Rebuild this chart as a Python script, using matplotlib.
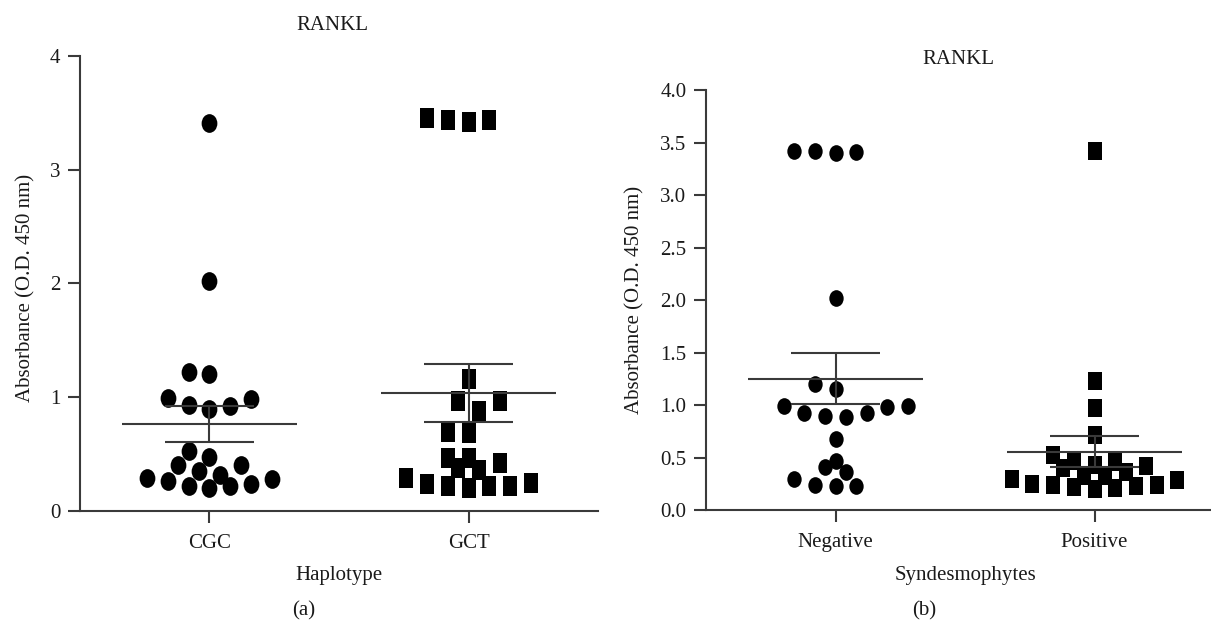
import numpy as np
import matplotlib.pyplot as plt
from matplotlib.path import Path
from matplotlib.transforms import Affine2D

plt.rcParams['font.family'] = ['Liberation Serif', 'DejaVu Serif']
plt.rcParams['font.size'] = 15

# absorbance values
cgc = [3.41, 2.02, 1.22, 1.20, 0.99, 0.98, 0.93, 0.89, 0.92, 0.52, 0.47,
       0.40, 0.40, 0.35, 0.31, 0.29, 0.28, 0.26, 0.22, 0.20, 0.22, 0.23]
gct = [3.44, 3.42, 3.44, 3.45, 1.16, 0.96, 0.96, 0.88, 0.69, 0.68, 0.46,
       0.46, 0.42, 0.37, 0.357, 0.29, 0.23, 0.22, 0.20, 0.22, 0.22, 0.24]
negative = [3.42, 3.41, 3.40, 3.42, 2.02, 1.20, 1.15, 0.99, 0.98, 0.99, 0.92,
            0.89, 0.90, 0.92, 0.68, 0.47, 0.41, 0.36, 0.30, 0.24, 0.23, 0.23]
positive = [3.42, 1.23, 0.97, 0.71, 0.52, 0.47, 0.46, 0.43, 0.42, 0.40, 0.36,
            0.32, 0.32, 0.30, 0.29, 0.25, 0.24, 0.24, 0.22, 0.23, 0.21, 0.20]

labels_a = ['CGC', 'GCT']
labels_b = ['Negative', 'Positive']
yticks_a = [0, 1, 2, 3, 4]
yticks_b = [0.0, 0.5, 1.0, 1.5, 2.0, 2.5, 3.0, 3.5, 4.0]

ink = '#3a3a3a'
ROW_PX = 11.5     # rows of the dot plot
SLOT_PX = 20.7    # horizontal step between dots


def oval(sx):
    return Path.unit_circle().transformed(Affine2D().scale(sx, 1.0))


def box(sx):
    return [(-sx, -1), (sx, -1), (sx, 1), (-sx, 1), (-sx, -1)]


def swarm_slots(vals, ppu_y):
    # prism-like layout: group close values into rows, spread each row sideways
    vals = np.asarray(vals, dtype=float)
    order = np.argsort(vals, kind='stable')
    rows = []
    for i in order:
        if rows and (vals[i] - vals[rows[-1][0]]) * ppu_y <= ROW_PX:
            rows[-1].append(i)
        else:
            rows.append([i])
    slots = np.zeros(len(vals))
    prev_start, prev_half = None, True
    for row in rows:
        n = len(row)
        start = vals[row[0]]
        half = (n > 1 and prev_start is not None and not prev_half
                and (start - prev_start) * ppu_y <= 2 * ROW_PX)
        if half:
            cand = [s for k in range(n) for s in (k + 0.5, -(k + 0.5))][:n]
        else:
            cand = sorted(range(-(n // 2), (n - 1) // 2 + 1), key=lambda s: (abs(s), -s))
        for i, s in zip(row, cand):
            slots[i] = s
        prev_start, prev_half = start, half
    return slots


def panel(ax, groups, labels, markers, sizes, ymax, yticks, fmt, xlabel):
    ax.set_xlim(-0.5, 1.5)
    ax.set_ylim(0, ymax)
    bb = ax.get_window_extent()
    ppu_x = bb.width / 2.0
    ppu_y = bb.height / ymax

    for k, vals in enumerate(groups):
        vals = np.asarray(vals)
        x = k + swarm_slots(vals, ppu_y) * SLOT_PX / ppu_x
        ax.scatter(x, vals, marker=markers[k], s=sizes[k], c='black',
                   linewidths=0, zorder=2, clip_on=False)
        m = vals.mean()
        se = vals.std(ddof=1) / np.sqrt(len(vals))
        ax.hlines(m, k - 0.337, k + 0.337, color=ink, lw=1.5, zorder=3)
        ax.hlines([m - se, m + se], k - 0.171, k + 0.171, color=ink, lw=1.5, zorder=3)
        ax.vlines(k, m - se, m + se, color=ink, lw=1.5, zorder=3)

    for s in ['top', 'right']:
        ax.spines[s].set_visible(False)
    for s in ['left', 'bottom']:
        ax.spines[s].set_color(ink)
        ax.spines[s].set_linewidth(1.5)
    ax.tick_params(direction='out', length=8.6, width=1.5, color=ink, labelcolor='#1a1a1a')
    ax.tick_params(axis='y', pad=5.5)
    ax.tick_params(axis='x', pad=8)

    ax.set_xticks([0, 1])
    ax.set_xticklabels(labels)
    ax.set_yticks(yticks)
    ax.set_yticklabels([fmt.format(t) for t in yticks])
    ax.set_xlabel(xlabel, labelpad=10, color='#1a1a1a')
    ax.set_title('RANKL', x=0.488, pad=19, fontsize=15, color='#1a1a1a')


fig = plt.figure(figsize=(12.11, 6.22), dpi=100)
ax1 = fig.add_axes([0.06606, 0.17926, 0.42775, 0.73071])
ax2 = fig.add_axes([0.58299, 0.18006, 0.42775, 0.67524])

panel(ax1, [cgc, gct], labels_a, [oval(0.84), box(0.75)], [182, 207],
      4, yticks_a, '{:.0f}', 'Haplotype')
panel(ax2, [negative, positive], labels_b, [oval(0.86), box(0.78)], [144, 168],
      4, yticks_b, '{:.1f}', 'Syndesmophytes')

ax1.set_ylabel('Absorbance (O.D. 450 nm)', color='#1a1a1a')
ax1.yaxis.set_label_coords(-0.085, 0.49)
ax2.set_ylabel('Absorbance (O.D. 450 nm)', color='#1a1a1a')
ax2.yaxis.set_label_coords(-0.118, 0.5)

fig.text(304 / 1211, 1 - 611 / 622, '(a)', ha='center', va='center', color='#1a1a1a')
fig.text(924 / 1211, 1 - 611 / 622, '(b)', ha='center', va='center', color='#1a1a1a')

fig.savefig('out.png', dpi=100)
